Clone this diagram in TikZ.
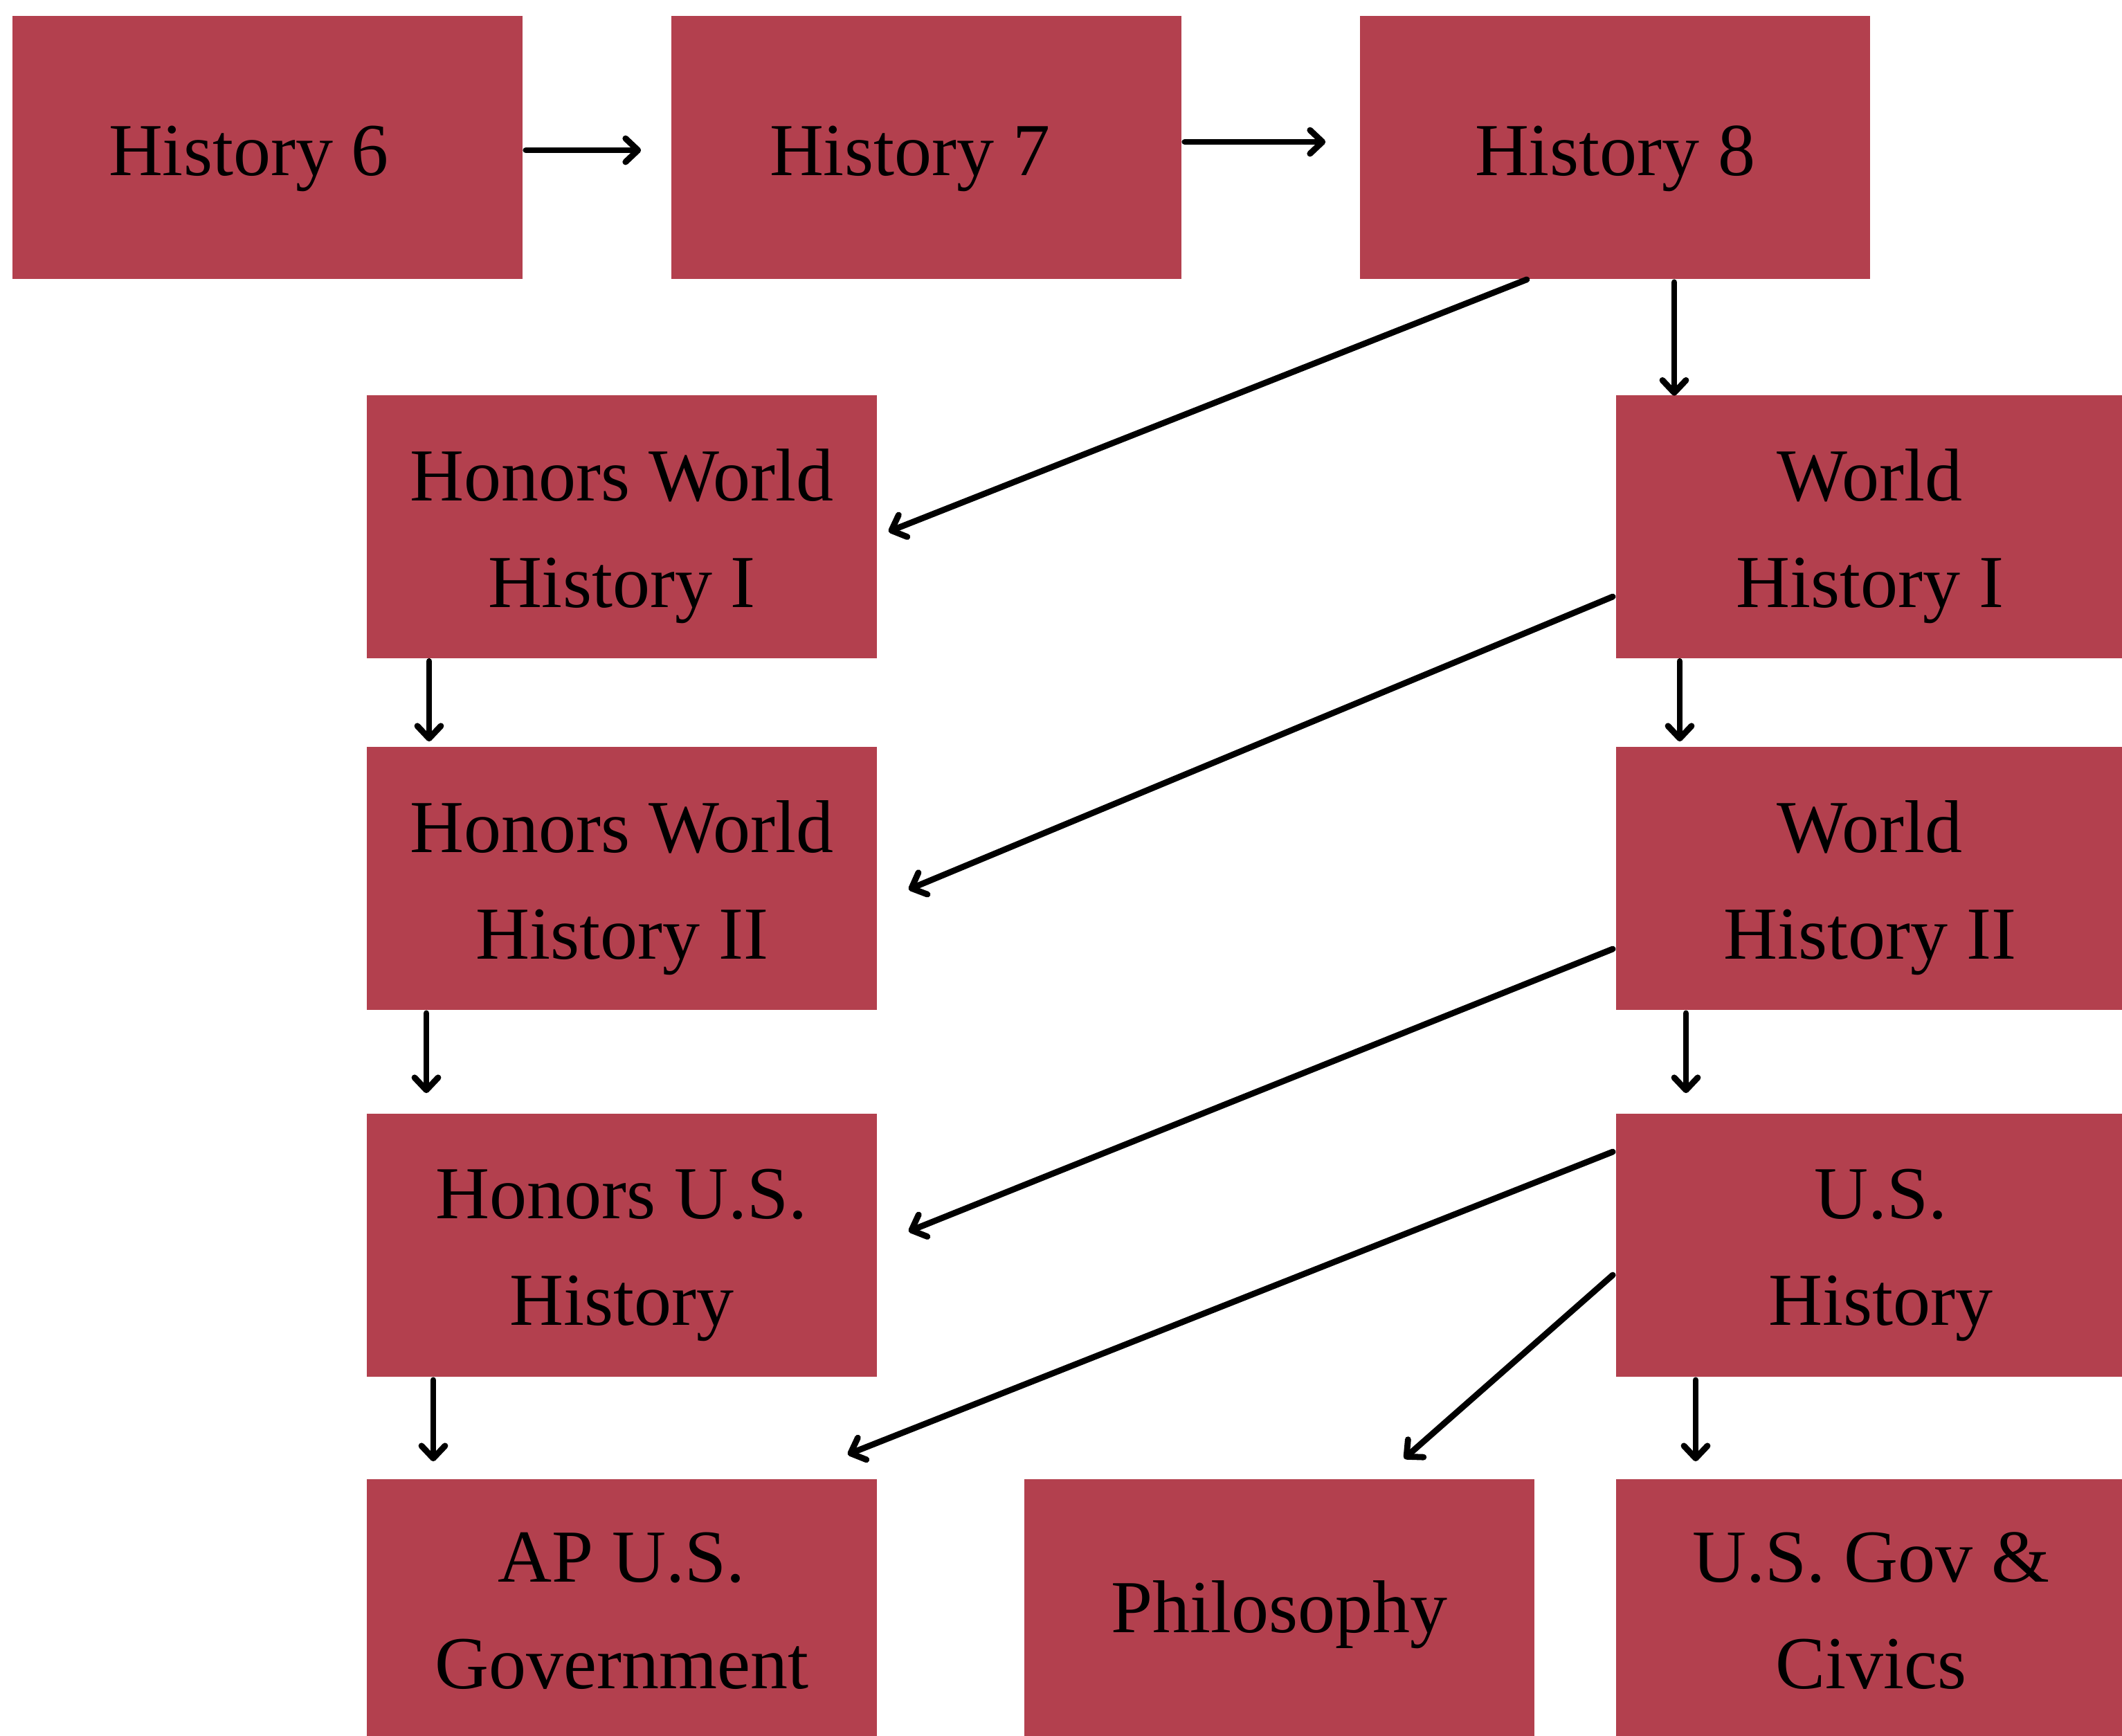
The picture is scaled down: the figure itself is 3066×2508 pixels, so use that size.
\documentclass[tikz,border=0pt]{standalone}
\usepackage{fontspec}
\setmainfont{Liberation Serif}
\usetikzlibrary{arrows.meta,calc}
\definecolor{boxred}{HTML}{B3404E}
\tikzset{
  box/.style={fill=boxred, minimum width=184.25pt, minimum height=95pt,
    inner sep=0pt},
  boxtext/.style={inner sep=0pt, align=center,
    font=\fontsize{27}{38.5}\selectfont},
  link/.style={line width=2.2pt, line cap=round,
    -{Straight Barb[length=4.5pt,width=8.5pt,line cap=round,line join=round]}}
}
\begin{document}
\begin{tikzpicture}[x=0.25pt,y=-0.25pt]
\useasboundingbox (0,0) rectangle (3066,2508);
\fill[white] (0,0) rectangle (3066,2508);

% course boxes
\node[box] (h6) at (386.5,213) {};
\node[box] (h7) at (1338.5,213) {};
\node[box] (h8) at (2333.5,213) {};
\node[box] (hw1) at (898.5,760.5) {};
\node[box] (wh1) at (2703.5,760.5) {};
\node[box] (hw2) at (898.5,1269) {};
\node[box] (wh2) at (2703.5,1269) {};
\node[box] (hus) at (898.5,1799) {};
\node[box] (us) at (2703.5,1799) {};
\node[box] (ap) at (898.5,2327) {};
\node[box] (phil) at (1848.5,2327) {};
\node[box] (gov) at (2703.5,2327) {};

% course titles
\node[boxtext] (h6t) at ($(h6.center)+(-27,16)$) {History 6};
\node[boxtext] (h7t) at ($(h7.center)+(-24,16)$) {History 7};
\node[boxtext] (h8t) at ($(h8.center)+(0,16)$) {History 8};
\node[boxtext] (hw1t) at ($(hw1.center)+(0,14)$) {Honors World\\History I};
\node[boxtext] (wh1t) at ($(wh1.center)+(-2,14)$) {World\\History I};
\node[boxtext] (hw2t) at ($(hw2.center)+(0,14)$) {Honors World\\History II};
\node[boxtext] (wh2t) at ($(wh2.center)+(-2,14)$) {World\\History II};
\node[boxtext] (hust) at ($(hus.center)+(0,14)$) {Honors U.S.\\History};
\node[boxtext] (ust) at ($(us.center)+(14,14)$) {U.S.\\History};
\node[boxtext] (apt) at ($(ap.center)+(0,0)$) {AP U.S.\\Government};
\node[boxtext] (philt) at ($(phil.center)+(0,6)$) {Philosophy};
\node[boxtext] (govt) at ($(gov.center)+(0,0)$) {U.S. Gov \&\\Civics};

% prerequisites
\draw[link] ($(h6.east)+(4,4)$) -- ($(h7.west)+(-43,4)$);
\draw[link] ($(h7.east)+(4,-8)$) -- ($(h8.west)+(-49,-8)$);
\draw[link] ($(h8.south)+(-127.5,0)$) -- ($(hw1.east)+(16,7.5)$);
\coordinate (a1) at ($(h8.south)+(85.5,4)$);
\draw[link] (a1) -- ($(a1 |- wh1.north)+(0,2)$);

\draw[link] ($(wh1.west)+(-4,101.5)$) -- ($(hw2.east)+(45,16)$);
\coordinate (a2) at ($(hw1.south)+(-278.5,4)$);
\draw[link] (a2) -- ($(a2 |- hw2.north)+(0,-7)$);
\coordinate (a3) at ($(wh1.south)+(-276.5,4)$);
\draw[link] (a3) -- ($(a3 |- wh2.north)+(0,-7)$);

\coordinate (a4) at ($(hw2.south)+(-282.5,4)$);
\draw[link] (a4) -- ($(a4 |- hus.north)+(0,-29)$);
\draw[link] ($(wh2.west)+(-4,102)$) -- ($(hus.east)+(45,-20)$);
\coordinate (a5) at ($(wh2.south)+(-267.5,4)$);
\draw[link] (a5) -- ($(a5 |- us.north)+(0,-29)$);

\draw[link] ($(us.west)+(-4,-135)$) -- ($(ap.north east)+(-43,-35)$);
\draw[link] ($(us.west)+(-4,43)$) -- ($(phil.north east)+(-189,-29)$);
\coordinate (a6) at ($(us.south)+(-253.5,4)$);
\draw[link] (a6) -- ($(a6 |- gov.north)+(0,-25)$);
\coordinate (a7) at ($(hus.south)+(-272.5,4)$);
\draw[link] (a7) -- ($(a7 |- ap.north)+(0,-25)$);
\end{tikzpicture}
\end{document}
